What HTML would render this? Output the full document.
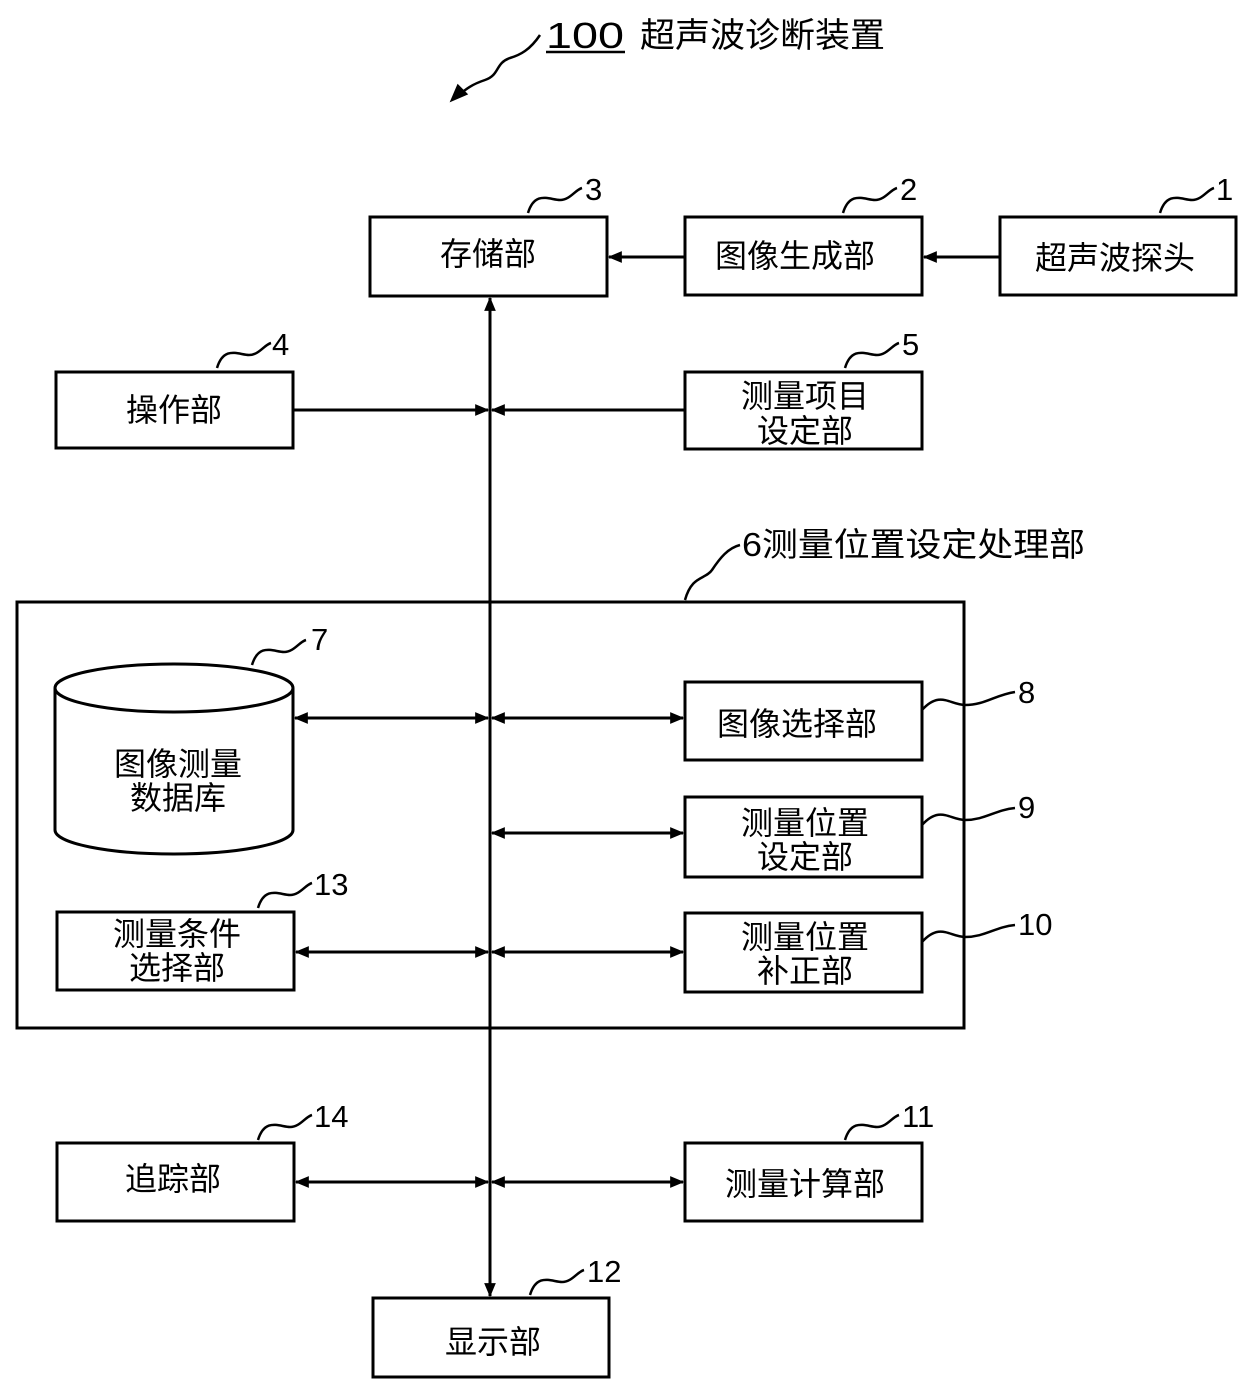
<!DOCTYPE html>
<html><head><meta charset="utf-8"><style>
html,body{margin:0;padding:0;background:#fff;}
svg text{font-family:"Liberation Sans","Noto Sans CJK SC",sans-serif;fill:#000;}
</style></head><body>
<svg width="1240" height="1379" viewBox="0 0 1240 1379" xmlns="http://www.w3.org/2000/svg">
<defs>
<marker id="a" viewBox="0 0 12 12" refX="11" refY="6" markerWidth="14" markerHeight="14" markerUnits="userSpaceOnUse" orient="auto-start-reverse">
<path d="M0,1 L12,6 L0,11 Z" fill="#000"/></marker>
</defs>
<g fill="none" stroke="#000" stroke-width="3">
<rect x="370" y="217" width="237" height="79"/>
<rect x="685" y="217" width="237" height="78"/>
<rect x="1000" y="217" width="236" height="78"/>
<rect x="56" y="372" width="237" height="76"/>
<rect x="685" y="372" width="237" height="77"/>
<rect x="17" y="602" width="947" height="426"/>
<rect x="685" y="682" width="237" height="78"/>
<rect x="685" y="797" width="237" height="80"/>
<rect x="685" y="913" width="237" height="79"/>
<rect x="57" y="912" width="237" height="78"/>
<rect x="57" y="1143" width="237" height="78"/>
<rect x="685" y="1143" width="237" height="78"/>
<rect x="373" y="1298" width="236" height="79"/>
<path d="M55,688 L55,830 A119,24 0 0 0 293,830 L293,688"/>
<ellipse cx="174" cy="688" rx="119" ry="24"/>
<line x1="490" y1="298" x2="490" y2="1296" marker-start="url(#a)" marker-end="url(#a)"/>
<line x1="1000" y1="257" x2="924" y2="257" marker-end="url(#a)"/>
<line x1="685" y1="257" x2="609" y2="257" marker-end="url(#a)"/>
<line x1="293" y1="410" x2="488" y2="410" marker-end="url(#a)"/>
<line x1="685" y1="410" x2="492" y2="410" marker-end="url(#a)"/>
<line x1="295" y1="718" x2="488" y2="718" marker-start="url(#a)" marker-end="url(#a)"/>
<line x1="492" y1="718" x2="683" y2="718" marker-start="url(#a)" marker-end="url(#a)"/>
<line x1="492" y1="833" x2="683" y2="833" marker-start="url(#a)" marker-end="url(#a)"/>
<line x1="296" y1="952" x2="488" y2="952" marker-start="url(#a)" marker-end="url(#a)"/>
<line x1="492" y1="952" x2="683" y2="952" marker-start="url(#a)" marker-end="url(#a)"/>
<line x1="296" y1="1182" x2="488" y2="1182" marker-start="url(#a)" marker-end="url(#a)"/>
<line x1="492" y1="1182" x2="683" y2="1182" marker-start="url(#a)" marker-end="url(#a)"/>
<g stroke-width="2.5">
<path d="M528,213 C535,190 550,200 560,200 C570,200 575,190 582,188"/>
<path d="M843,213 C850,190 865,200 875,200 C885,200 890,190 897,188"/>
<path d="M1160,213 C1167,190 1182,200 1192,200 C1202,200 1207,190 1214,188"/>
<path d="M217,368 C224,345 239,355 249,355 C259,355 264,345 271,343"/>
<path d="M845,368 C852,345 867,355 877,355 C887,355 892,345 899,343"/>
<path d="M252,665 C259,642 274,652 284,652 C294,652 299,642 306,640"/>
<path d="M685,600 C692,575 705,580 712,570 C720,558 728,548 740,545"/>
<path d="M922,710 C940,690 950,705 965,705 C985,705 995,695 1015,692"/>
<path d="M922,825 C940,805 950,820 965,820 C985,820 995,810 1015,808"/>
<path d="M922,942 C940,922 950,937 965,937 C985,937 995,927 1015,925"/>
<path d="M258,908 C265,885 280,895 290,895 C300,895 305,885 312,883"/>
<path d="M258,1140 C265,1117 280,1127 290,1127 C300,1127 305,1117 312,1115"/>
<path d="M845,1140 C852,1117 867,1127 877,1127 C887,1127 892,1117 899,1115"/>
<path d="M530,1295 C537,1272 552,1282 562,1282 C572,1282 577,1272 584,1270"/>
<path d="M540,35 C530,50 520,55 510,58 C495,63 500,75 485,80 C470,85 465,90 455,98"/>
<path d="M452,100 L458,86 L466,94 Z" fill="#000"/>
<line x1="546" y1="52" x2="625" y2="52"/>
</g>
</g>
<g font-size="32" text-anchor="middle">
<text x="488" y="265">存储部</text>
<text x="795" y="267">图像生成部</text>
<text x="1115" y="269">超声波探头</text>
<text x="174" y="421">操作部</text>
<text x="805" y="407">测量项目</text>
<text x="805" y="442">设定部</text>
<text x="178" y="775">图像测量</text>
<text x="178" y="809">数据库</text>
<text x="797" y="735">图像选择部</text>
<text x="805" y="834">测量位置</text>
<text x="805" y="868">设定部</text>
<text x="805" y="948">测量位置</text>
<text x="805" y="982">补正部</text>
<text x="177" y="945">测量条件</text>
<text x="177" y="979">选择部</text>
<text x="173" y="1190">追踪部</text>
<text x="805" y="1195">测量计算部</text>
<text x="493" y="1353">显示部</text>
</g>
<text x="546" y="48" font-size="36" textLength="78" lengthAdjust="spacingAndGlyphs">100</text>
<text x="640" y="47" font-size="34" textLength="245" lengthAdjust="spacingAndGlyphs">超声波诊断装置</text>
<text x="742" y="556" font-size="33" textLength="343" lengthAdjust="spacingAndGlyphs">6测量位置设定处理部</text>
<g font-size="31">
<text x="585" y="200">3</text>
<text x="900" y="200">2</text>
<text x="1216" y="200">1</text>
<text x="272" y="355">4</text>
<text x="902" y="355">5</text>
<text x="311" y="650">7</text>
<text x="1018" y="703">8</text>
<text x="1018" y="818">9</text>
<text x="1018" y="935">10</text>
<text x="314" y="895">13</text>
<text x="314" y="1127">14</text>
<text x="902" y="1127">11</text>
<text x="587" y="1282">12</text>
</g>
</svg>
</body></html>
